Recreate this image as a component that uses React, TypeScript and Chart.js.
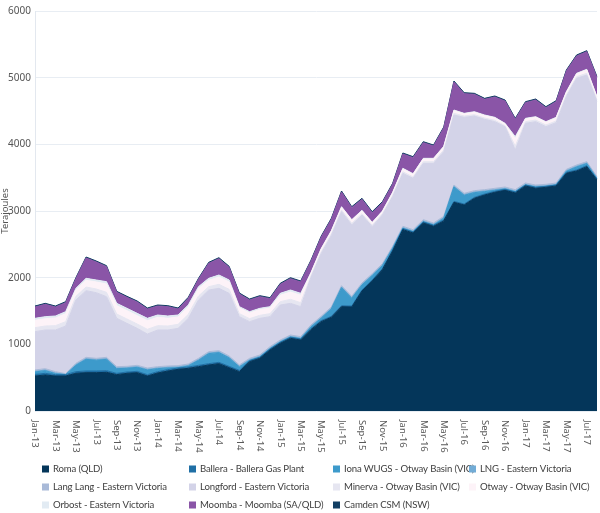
import React, { useEffect, useRef } from 'react';
import { Chart, registerables } from 'chart.js';
Chart.register(...registerables);

const months = [
  'Jan-13','Feb-13','Mar-13','Apr-13','May-13','Jun-13','Jul-13','Aug-13','Sep-13','Oct-13','Nov-13','Dec-13',
  'Jan-14','Feb-14','Mar-14','Apr-14','May-14','Jun-14','Jul-14','Aug-14','Sep-14','Oct-14','Nov-14','Dec-14',
  'Jan-15','Feb-15','Mar-15','Apr-15','May-15','Jun-15','Jul-15','Aug-15','Sep-15','Oct-15','Nov-15','Dec-15',
  'Jan-16','Feb-16','Mar-16','Apr-16','May-16','Jun-16','Jul-16','Aug-16','Sep-16','Oct-16','Nov-16','Dec-16',
  'Jan-17','Feb-17','Mar-17','Apr-17','May-17','Jun-17','Jul-17','Aug-17'
];

const roma = [525,540,525,525,565,575,575,580,545,565,575,525,570,600,625,640,665,690,710,650,590,740,790,915,1015,1090,1065,1220,1340,1405,1565,1560,1800,1950,2120,2400,2720,2670,2820,2770,2850,3130,3090,3190,3240,3280,3310,3270,3375,3340,3355,3375,3565,3600,3665,3465];
const ballera = [25,25,20,20,25,25,25,25,20,20,20,20,20,20,20,20,20,20,20,20,20,15,15,15,15,15,15,15,15,15,15,15,15,15,15,15,15,15,15,15,15,15,15,15,15,15,15,15,15,15,15,15,15,15,15,15];
const iona = [35,40,15,0,95,175,160,170,70,55,60,70,45,25,5,15,75,150,145,125,50,5,5,5,5,5,5,25,35,110,270,115,75,65,45,25,5,5,5,5,25,215,130,70,35,15,5,5,0,5,0,0,15,45,30,5];
const lng = [10,10,10,5,10,10,10,10,10,10,10,10,10,10,10,10,10,10,10,10,10,10,10,10,10,10,10,10,10,10,10,10,10,10,10,10,10,10,10,10,10,10,10,10,10,10,10,10,10,10,10,10,10,10,10,10];
const langLang = [20,20,20,10,20,20,20,20,20,20,20,20,20,20,20,20,20,20,20,20,20,20,20,20,20,20,20,20,20,20,20,20,20,20,20,20,20,20,20,20,20,20,20,20,20,20,20,20,20,20,20,20,20,20,20,20];
const longford = [575,580,625,715,950,1000,985,910,725,645,555,510,550,540,560,685,875,925,935,940,725,550,550,450,525,475,450,710,940,1070,1110,1070,1020,705,730,745,795,770,845,895,970,1050,1140,1120,1055,1000,905,595,895,950,865,905,1090,1300,1300,1125];
const minerva = [60,60,65,65,55,55,55,65,65,65,65,70,65,60,60,60,60,50,60,60,45,45,45,45,50,60,60,25,25,25,25,25,20,20,20,20,25,20,25,25,25,25,20,20,20,20,15,60,25,25,25,25,25,25,25,25];
const otway = [110,110,115,120,95,100,105,125,125,125,125,130,125,115,110,110,110,95,110,110,85,85,85,85,95,110,110,40,40,40,40,45,40,35,30,35,40,40,40,40,45,40,30,35,35,35,25,110,40,40,40,45,40,40,50,40];
const orbost = [30,30,30,30,25,30,30,35,35,35,35,35,35,35,30,30,30,30,30,30,20,20,20,20,30,30,30,10,10,10,10,10,10,10,10,10,10,10,10,10,10,10,10,10,10,10,10,30,10,10,10,10,10,10,10,10];
const moomba = [170,185,135,135,145,305,270,225,165,165,170,140,135,140,90,100,110,225,245,190,190,175,175,120,135,170,170,170,170,170,220,180,165,145,125,120,215,240,235,185,275,420,295,260,235,305,335,260,235,250,210,235,310,260,265,285];
const camden = [15,15,15,15,15,15,15,15,15,15,15,15,15,15,15,15,15,15,15,15,15,15,15,15,15,15,15,15,15,15,15,15,15,15,15,15,15,15,15,15,15,15,15,15,15,15,15,15,15,15,15,15,15,15,15,15];

const seriesNames = [
  'Roma (QLD)',
  'Ballera - Ballera Gas Plant',
  'Iona WUGS - Otway Basin (VIC)',
  'LNG - Eastern Victoria',
  'Lang Lang - Eastern Victoria',
  'Longford - Eastern Victoria',
  'Minerva - Otway Basin (VIC)',
  'Otway - Otway Basin (VIC)',
  'Orbost - Eastern Victoria',
  'Moomba - Moomba (SA/QLD)',
  'Camden CSM (NSW)'
];
const seriesColors = ['#04365a','#1f6fa5','#3d9acb','#72acd6','#a9bad8','#d3d3e8','#e6e6f1','#fdf3f8','#e2ebf3','#8a55a7','#123f63'];

const FONT = '"Noto Sans", "Open Sans", sans-serif';
const LEGEND_FONT = 'Lato, "Noto Sans", sans-serif';

const xLabelPlugin = {
  id: 'xLabels',
  afterDraw(chart: any) {
    const xs = chart.scales.x;
    const ctx = chart.ctx;
    ctx.save();
    ctx.font = '9.5px ' + FONT;
    ctx.fillStyle = '#5a5a5a';
    ctx.textAlign = 'left';
    ctx.textBaseline = 'middle';
    months.forEach((m, i) => {
      if (i % 2) return;
      const x = xs.getPixelForValue(i);
      ctx.save();
      ctx.translate(x, xs.top + 9);
      ctx.rotate(Math.PI / 2);
      ctx.fillText(m, 0, 0);
      ctx.restore();
    });
    ctx.restore();
  }
};

const legendPlugin = {
  id: 'gridLegend',
  afterDraw(chart: any) {
    const ctx = chart.ctx;
    const cols = [42, 189, 333, 469];
    const rows = [469, 487, 505];
    ctx.save();
    ctx.font = '9.6px ' + LEGEND_FONT;
    try { (ctx as any).letterSpacing = '-0.15px'; } catch (e) {}
    ctx.textAlign = 'left';
    ctx.textBaseline = 'middle';
    chart.data.datasets.forEach((ds: any, i: number) => {
      const x = cols[i % 4];
      const y = rows[Math.floor(i / 4)];
      ctx.fillStyle = ds.backgroundColor;
      ctx.fillRect(x, y - 3.5, 7, 7);
      ctx.fillStyle = '#404040';
      ctx.fillText(ds.label, x + 11, y);
    });
    ctx.restore();
  }
};

export default function App() {
  const ref = useRef<HTMLCanvasElement>(null);
  useEffect(() => {
    document.body.style.margin = '0';
    const values = [roma, ballera, iona, lng, langLang, longford, minerva, otway, orbost, moomba, camden];
    const chart = new Chart(ref.current as HTMLCanvasElement, {
      type: 'line',
      data: {
        labels: months,
        datasets: values.map((v, i) => ({
          label: seriesNames[i],
          data: v,
          backgroundColor: seriesColors[i],
          borderColor: seriesColors[i],
          borderWidth: 1,
          pointRadius: 0,
          fill: i === 0 ? 'origin' : '-1',
          tension: 0,
        })),
      },
      options: {
        animation: false,
        responsive: false,
        layout: { padding: { top: 11, right: 3, bottom: 56, left: 0 } },
        plugins: { legend: { display: false }, tooltip: { enabled: false } },
        scales: {
          x: {
            grid: { display: false },
            border: { display: false },
            ticks: { display: false },
            afterFit: (s: any) => { s.height = 46; },
          },
          y: {
            stacked: true,
            min: 0,
            max: 6000,
            grid: { color: '#e8edf3', drawTicks: false },
            border: { display: true, color: '#e3e8ef' },
            ticks: {
              stepSize: 1000,
              padding: 4,
              color: '#555555',
              font: { size: 10, family: FONT },
              callback: (v: any) => String(v),
            },
            title: { display: true, text: 'Terajoules', color: '#555555', font: { size: 9.5, family: FONT }, padding: 0 },
            afterFit: (s: any) => { s.width = 35; },
          },
        },
      } as any,
      plugins: [xLabelPlugin, legendPlugin],
    });
    return () => chart.destroy();
  }, []);
  return (
    <div style={{ width: 600, height: 513 }}>
      <canvas ref={ref} width={600} height={513} />
    </div>
  );
}
